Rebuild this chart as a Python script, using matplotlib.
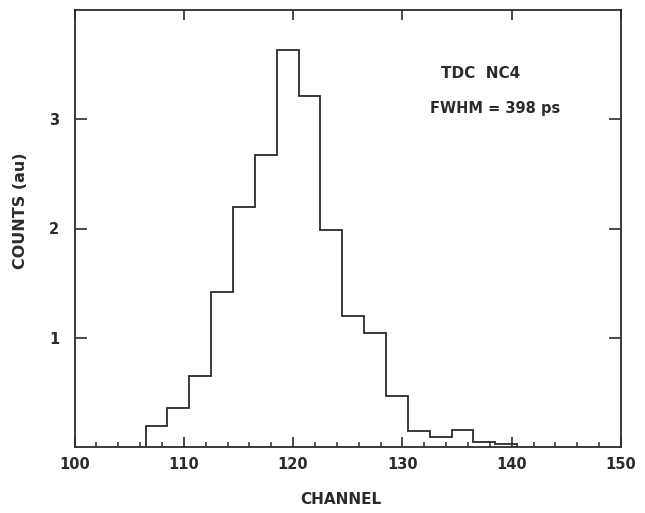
import numpy as np
import matplotlib.pyplot as plt
from matplotlib.ticker import MultipleLocator

# TDC NC4 timing histogram, 2-channel bins
edges = np.arange(106.5, 141.5, 2.0)
counts = [0.19, 0.36, 0.65, 1.42, 2.20, 2.67, 3.63, 3.21, 1.99,
          1.20, 1.04, 0.47, 0.15, 0.09, 0.155, 0.05, 0.03]
xticks = [100, 110, 120, 130, 140, 150]
yticks = [1, 2, 3]

ink = '#2b2b2b'
plt.rcParams['font.family'] = 'DejaVu Sans'
plt.rcParams['font.weight'] = 'bold'

fig = plt.figure(figsize=(6.45, 5.13), dpi=100)
ax = fig.add_axes([74.5 / 645, 1 - 447 / 513, 546.5 / 645, 437 / 513])

ax.stairs(counts, edges, color=ink, linewidth=1.3, baseline=0)

ax.set_xlim(100, 150)
ax.set_ylim(0, 4)
ax.set_xticks(xticks)
ax.set_yticks(yticks)
ax.xaxis.set_minor_locator(MultipleLocator(2))

for s in ax.spines.values():
    s.set_color(ink)
    s.set_linewidth(1.3)

ax.tick_params(which='major', direction='in', length=7.5, width=1.2, color=ink,
               top=True, right=True, labelsize=10.5, labelcolor=ink)
ax.tick_params(axis='x', which='major', pad=7)
ax.tick_params(axis='y', which='major', length=8.5, pad=11)
ax.tick_params(which='minor', direction='in', length=3.5, width=1.1, color=ink,
               top=False, bottom=True)

ax.set_xlabel('CHANNEL', fontsize=11, fontweight='bold', color=ink)
ax.xaxis.set_label_coords(0.488, -0.104)
ax.set_ylabel('COUNTS (au)', fontsize=11.5, fontweight='bold', color=ink)
ax.yaxis.set_label_coords(-0.086, 0.54)

ax.text(133.5, 3.42, 'TDC  NC4', fontsize=11, fontweight='bold', color=ink,
        ha='left', va='center')
ax.text(132.5, 3.10, 'FWHM = 398 ps', fontsize=10.5, fontweight='bold', color=ink,
        ha='left', va='center')

fig.savefig('out.png', dpi=100)
